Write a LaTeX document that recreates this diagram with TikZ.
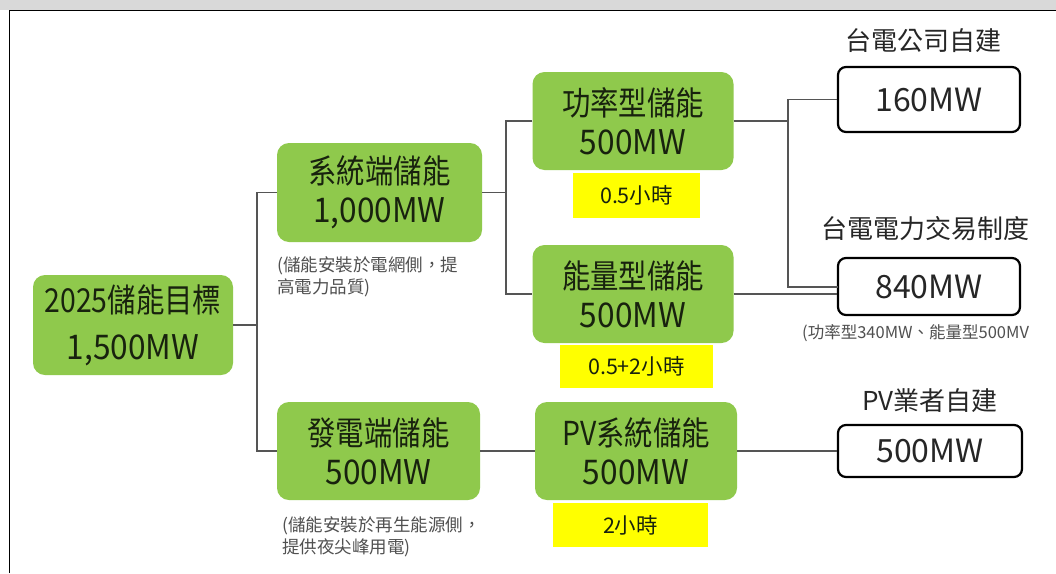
\documentclass[tikz,border=0pt]{standalone}
\usepackage{fontspec}
\setmainfont{Noto Sans CJK TC}
\newfontfamily\cjkbig[FakeStretch=0.86]{Noto Sans CJK TC}
\newfontfamily\latbig[FakeStretch=0.93]{Noto Sans CJK TC}
\usetikzlibrary{calc}
\definecolor{boxgreen}{RGB}{143,201,76}
\definecolor{boxyellow}{RGB}{255,255,0}
\definecolor{gtext}{RGB}{24,34,14}
\definecolor{linegray}{RGB}{85,85,85}
\definecolor{notegray}{RGB}{80,80,80}
\definecolor{bargray}{RGB}{217,217,217}
\newcommand{\lineA}[1]{{\cjkbig\fontsize{33}{39}\selectfont #1}}
\newcommand{\lineB}[1]{{\latbig\fontsize{34}{39}\selectfont #1}}
\tikzset{
  gbox/.style={fill=boxgreen, rounded corners=12pt, inner sep=0pt, align=center,
    text=gtext, font=\fontsize{33}{39}\selectfont},
  ybox/.style={fill=boxyellow, inner sep=0pt, text=gtext, font=\fontsize{21.5}{24}\selectfont},
  wbox/.style={draw=black, line width=2.2pt, rounded corners=8pt, fill=white, inner sep=0pt,
    text=black!85, font=\fontsize{32}{34}\selectfont},
  toplabel/.style={inner sep=0pt, text=black!85, font=\fontsize{26}{30}\selectfont},
  notetext/.style={inner sep=0pt, align=left, text=notegray, anchor=north west,
    font=\fontsize{17.5}{22}\selectfont},
  conn/.style={draw=linegray, line width=1.3pt},
}
\begin{document}
\begin{tikzpicture}[x=1pt,y=-1pt]
\useasboundingbox (0,0) rectangle (1056,573);
\fill[white] (0,0) rectangle (1056,573);
\fill[bargray] (0,0) rectangle (1056,10);
\draw[black, line width=1.8pt] (9.5,573) -- (9.5,10.5) -- (1056,10.5);

% green boxes
\node[gbox, minimum width=200pt, minimum height=100pt, font=\fontsize{33}{43}\selectfont] (root) at (133,325) {\lineA{2025儲能目標}\\[4pt]\lineB{1,500MW}};
\node[gbox, minimum width=205pt, minimum height=99pt] (sys) at (379.5,192.5) {\lineA{系統端儲能}\\\lineB{1,000MW}};
\node[gbox, minimum width=203pt, minimum height=98pt] (gen) at (378.5,451) {\lineA{發電端儲能}\\\lineB{500MW}};
\node[gbox, minimum width=201pt, minimum height=98pt] (pow) at (633,121) {\lineA{功率型儲能}\\\lineB{500MW}};
\node[gbox, minimum width=201pt, minimum height=98pt] (ene) at (633,294) {\lineA{能量型儲能}\\\lineB{500MW}};
\node[gbox, minimum width=202pt, minimum height=98pt] (pv) at (636,451) {\lineA{PV系統儲能}\\\lineB{500MW}};

% yellow boxes
\node[ybox, minimum width=127pt, minimum height=45pt] (y1) at (636.5,195.5) {0.5小時};
\node[ybox, minimum width=153pt, minimum height=43pt] (y2) at (636.5,366.5) {0.5+2小時};
\node[ybox, minimum width=155pt, minimum height=44pt] (y3) at (630.5,525) {2小時};

% white boxes
\node[wbox, minimum width=182pt, minimum height=65pt] (w160) at (929,99.5) {160MW};
\node[wbox, minimum width=182pt, minimum height=57pt] (w840) at (929,286.5) {840MW};
\node[wbox, minimum width=184pt, minimum height=52pt] (w500) at (930,451) {500MW};

% labels above white boxes
\node[toplabel] (l160) at (923,41) {台電公司自建};
\node[toplabel] (l840) at (925,229) {台電電力交易制度};
\node[toplabel] (l500) at (930,401) {PV業者自建};

% notes
\node[notetext] (n1) at (277,256) {(儲能安裝於電網側，提\\高電力品質)};
\node[notetext] (n2) at (282,516) {(儲能安裝於再生能源側，\\提供夜尖峰用電)};
\node[notetext, font=\fontsize{16.5}{18}\selectfont] (n3) at (802,324) {(功率型340MW、能量型500MV};

% connectors
\coordinate (j1) at (257,325);
\coordinate (j2) at (506,192.5);
\coordinate (j3) at (788,121);
\coordinate (k840) at (838,287);
\draw[conn] (root.east) -- (j1);
\draw[conn] (sys.west) -| (j1) |- (gen.west);
\draw[conn] (sys.east) -- (j2);
\draw[conn] (pow.west) -| (j2) |- (ene.west);
\draw[conn] (pow.east) -- (j3);
\draw[conn] (w160.west) -| (j3) |- (k840);
\draw[conn] (ene.east) -- (ene.east -| w840.west);
\draw[conn] (gen.east) -- (pv.west);
\draw[conn] (pv.east) -- (w500.west);
\end{tikzpicture}
\end{document}
